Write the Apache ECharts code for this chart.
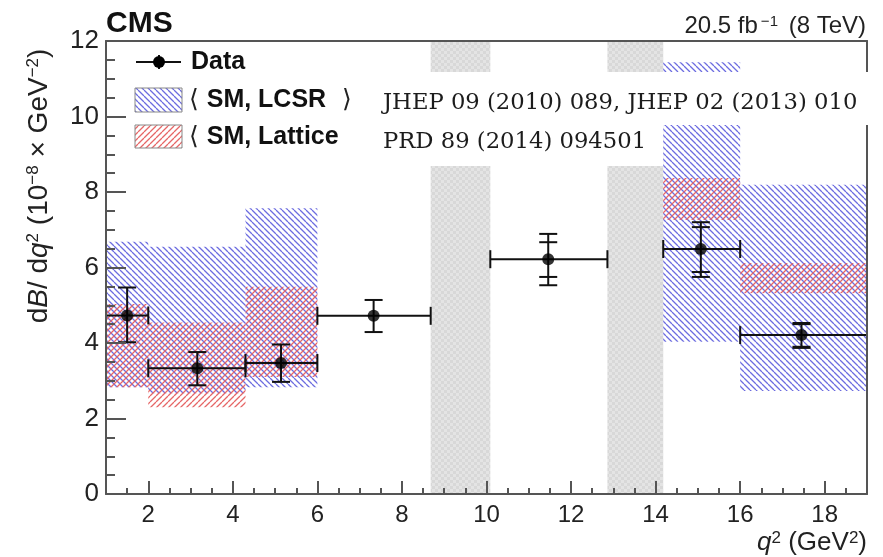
<!DOCTYPE html>
<html>
<head>
<meta charset="utf-8">
<script src="https://cdn.jsdelivr.net/npm/echarts@6/dist/echarts.min.js"></script>
<style>
  html, body { margin: 0; background: #fff; }
  #chart { width: 883px; height: 557px; }
</style>
</head>
<body>
<div id="chart"></div>
<script>
// measured bins (q2 in GeV2)
const binLo = [1, 2, 4.3, 6, 10.09, 14.18, 16];
const binHi = [2, 4.3, 6, 8.68, 12.86, 16, 19];
const dataX = [1.5, 3.16, 5.14, 7.33, 11.46, 15.07, 17.45];
const dataY = [4.73, 3.33, 3.47, 4.72, 6.22, 6.49, 4.21];
const totLo = [4.02, 2.88, 2.97, 4.29, 5.53, 5.75, 3.87];
const totHi = [5.47, 3.76, 3.96, 5.14, 6.89, 7.20, 4.53];
const statLo = [4.02, 2.88, 2.97, 4.29, 5.75, 5.88, 3.90];
const statHi = [5.47, 3.76, 3.96, 5.14, 6.67, 7.07, 4.50];

// SM predictions
const thBinLo = [1, 2, 4.3, 14.18, 16];
const thBinHi = [2, 4.3, 6, 16, 19];
const lcsrLo = [2.83, 2.67, 2.83, 4.03, 2.73];
const lcsrHi = [6.68, 6.55, 7.57, 11.44, 8.19];
const latLo = [2.83, 2.30, 3.10, 7.26, 5.32];
const latHi = [5.03, 4.54, 5.49, 8.37, 6.12];

// vetoed regions (J/psi, psi')
const vetoLo = [8.68, 12.86];
const vetoHi = [10.09, 14.18];

const xLabels = [2, 4, 6, 8, 10, 12, 14, 16, 18];

function hatch(color, dir) {
  const s = 6;
  const c = document.createElement('canvas');
  c.width = s; c.height = s;
  const ctx = c.getContext('2d');
  ctx.strokeStyle = color;
  ctx.lineWidth = 1.3;
  ctx.beginPath();
  for (let k = -1; k <= 1; k++) {
    if (dir > 0) { ctx.moveTo(k * s, 0); ctx.lineTo(k * s + s, s); }
    else { ctx.moveTo(k * s, s); ctx.lineTo(k * s + s, 0); }
  }
  ctx.stroke();
  return c;
}

function checker() {
  const c = document.createElement('canvas');
  c.width = 6; c.height = 6;
  const ctx = c.getContext('2d');
  ctx.fillStyle = '#e4e4e4';
  ctx.fillRect(0, 0, 6, 6);
  ctx.fillStyle = '#d8d8d8';
  ctx.fillRect(0, 0, 3, 3);
  ctx.fillRect(3, 3, 3, 3);
  return c;
}

const bluePat = { image: hatch('#6c6ce0', 1), repeat: 'repeat' };
const redPat = { image: hatch('#e66666', -1), repeat: 'repeat' };
const greyPat = { image: checker(), repeat: 'repeat' };

function boxItem(fill) {
  return function (params, api) {
    const p0 = api.coord([api.value(0), api.value(3)]);
    const p1 = api.coord([api.value(1), api.value(2)]);
    return {
      type: 'rect',
      shape: { x: p0[0], y: p0[1], width: p1[0] - p0[0], height: p1[1] - p0[1] },
      style: { fill: fill }
    };
  };
}

function errItem(params, api) {
  const c = api.coord([api.value(0), api.value(1)]);
  const xl = api.coord([api.value(2), 0])[0];
  const xh = api.coord([api.value(3), 0])[0];
  const tl = api.coord([0, api.value(4)])[1];
  const th = api.coord([0, api.value(5)])[1];
  const sl = api.coord([0, api.value(6)])[1];
  const sh = api.coord([0, api.value(7)])[1];
  const st = { stroke: '#111', lineWidth: 2 };
  const w = 9;
  const seg = (x1, y1, x2, y2) => ({ type: 'line', shape: { x1, y1, x2, y2 }, style: st });
  const kids = [
    seg(xl, c[1], xh, c[1]),
    seg(xl, c[1] - w, xl, c[1] + w),
    seg(xh, c[1] - w, xh, c[1] + w),
    seg(c[0], th, c[0], tl),
    seg(c[0] - w, th, c[0] + w, th),
    seg(c[0] - w, tl, c[0] + w, tl)
  ];
  if (Math.abs(sh - th) > 1) kids.push(seg(c[0] - w, sh, c[0] + w, sh));
  if (Math.abs(sl - tl) > 1) kids.push(seg(c[0] - w, sl, c[0] + w, sl));
  return { type: 'group', children: kids };
}

const vetoData = vetoLo.map((v, i) => [v, vetoHi[i], 0, 12]);
const lcsrData = thBinLo.map((v, i) => [v, thBinHi[i], lcsrLo[i], lcsrHi[i]]);
const latData = thBinLo.map((v, i) => [v, thBinHi[i], latLo[i], latHi[i]]);
const errData = dataX.map((v, i) => [v, dataY[i], binLo[i], binHi[i], totLo[i], totHi[i], statLo[i], statHi[i]]);

const FONT = '"Liberation Sans", Arial, sans-serif';
const TXT = '#222';
const AX = '#555';
const sup = { fontSize: 17, fontFamily: FONT, fill: TXT, verticalAlign: 'top' };
const frameOnly = {
  z: 10,
  axisLine: { show: true, onZero: false, lineStyle: { color: AX, width: 2 } },
  axisTick: { show: false }, axisLabel: { show: false }, splitLine: { show: false }
};

const chart = echarts.init(document.getElementById('chart'));
chart.setOption({
  animation: false,
  backgroundColor: '#fff',
  grid: { left: 106, right: 16, top: 41, bottom: 63 },
  xAxis: [{
    type: 'value', min: 1, max: 19, interval: 0.5, position: 'bottom', z: 10,
    axisLine: { show: true, onZero: false, lineStyle: { color: AX, width: 2 } },
    axisTick: { show: true, inside: true, length: 6, lineStyle: { color: AX, width: 2 } },
    axisLabel: {
      fontSize: 24, fontFamily: FONT, color: TXT, margin: 9,
      formatter: v => (xLabels.indexOf(v) >= 0 ? String(v) : '')
    },
    splitLine: { show: false }
  }, {
    type: 'value', min: 1, max: 19, position: 'bottom', z: 10,
    axisLine: { show: false, onZero: false },
    axisTick: { show: true, inside: true, length: 13, customValues: xLabels, lineStyle: { color: AX, width: 2 } },
    axisLabel: { show: false },
    splitLine: { show: false }
  }, Object.assign({ type: 'value', min: 1, max: 19, position: 'top' }, frameOnly)],
  yAxis: [{
    type: 'value', min: 0, max: 12, interval: 2, position: 'left', z: 10,
    axisLine: { show: true, onZero: false, lineStyle: { color: AX, width: 2 } },
    axisTick: { show: true, inside: true, length: 20, lineStyle: { color: AX, width: 2 } },
    minorTick: { show: true, splitNumber: 4, length: 9, lineStyle: { color: AX, width: 2 } },
    axisLabel: { fontSize: 26, fontFamily: FONT, color: TXT, margin: 7 },
    splitLine: { show: false }
  }, Object.assign({ type: 'value', min: 0, max: 12, position: 'right' }, frameOnly)],
  series: [
    { type: 'custom', silent: true, clip: false, renderItem: boxItem(greyPat), data: vetoData, z: 1 },
    { type: 'custom', silent: true, clip: false, renderItem: boxItem(bluePat), data: lcsrData, z: 2 },
    { type: 'custom', silent: true, clip: false, renderItem: boxItem(redPat), data: latData, z: 3 },
    { type: 'custom', silent: true, clip: false, renderItem: errItem, data: errData, z: 4 },
    {
      type: 'scatter', silent: true, symbol: 'circle', symbolSize: 12, z: 5,
      itemStyle: { color: '#000' },
      data: dataX.map((v, i) => [v, dataY[i]])
    }
  ],
  graphic: [
    // white boxes behind the reference text
    { type: 'rect', z: 50, shape: { x: 372, y: 72, width: 500, height: 53 }, style: { fill: '#fff' } },
    { type: 'rect', z: 50, shape: { x: 372, y: 124, width: 291, height: 42 }, style: { fill: '#fff' } },
    { type: 'text', z: 60, x: 383, y: 103, style: { text: 'JHEP 09 (2010) 089, JHEP 02 (2013) 010', font: '22.7px "DejaVu Serif", serif', fill: '#1c1c1c', align: 'left', verticalAlign: 'middle' } },
    { type: 'text', z: 60, x: 383, y: 142, style: { text: 'PRD 89 (2014) 094501', font: '22.7px "DejaVu Serif", serif', fill: '#1c1c1c', align: 'left', verticalAlign: 'middle' } },

    // CMS label and lumi
    { type: 'text', z: 60, x: 106, y: 24, style: { text: 'CMS', font: 'bold 30px ' + FONT, fill: '#111', align: 'left', verticalAlign: 'middle' } },
    {
      type: 'text', z: 60, x: 866, y: 26,
      style: {
        text: '{n|20.5 fb}{s|−1}{n| (8 TeV)}', align: 'right', verticalAlign: 'middle',
        rich: { n: { fontSize: 24, fontFamily: FONT, fill: TXT }, s: { fontSize: 15, fontFamily: FONT, fill: TXT, verticalAlign: 'top', padding: [0, 4, 0, 3] } }
      }
    },

    // legend
    { type: 'line', z: 60, shape: { x1: 136, y1: 62, x2: 181, y2: 62 }, style: { stroke: '#111', lineWidth: 2 } },
    { type: 'line', z: 60, shape: { x1: 159, y1: 55, x2: 159, y2: 69 }, style: { stroke: '#111', lineWidth: 2 } },
    { type: 'circle', z: 61, shape: { cx: 159, cy: 62, r: 6 }, style: { fill: '#000' } },
    { type: 'text', z: 60, x: 191, y: 62, style: { text: 'Data', font: 'bold 25px ' + FONT, fill: '#111', align: 'left', verticalAlign: 'middle' } },
    { type: 'rect', z: 60, shape: { x: 135, y: 88, width: 47, height: 24 }, style: { fill: bluePat, stroke: '#888', lineWidth: 1 } },
    {
      type: 'text', z: 60, x: 189, y: 100,
      style: {
        text: '{a|⟨ }{b|SM, LCSR}{a|  ⟩}', align: 'left', verticalAlign: 'middle',
        rich: { a: { fontSize: 25, fontFamily: '"DejaVu Sans", sans-serif', fill: '#222' }, b: { fontSize: 25, fontWeight: 'bold', fontFamily: FONT, fill: '#111' } }
      }
    },
    { type: 'rect', z: 60, shape: { x: 135, y: 125, width: 47, height: 23 }, style: { fill: redPat, stroke: '#888', lineWidth: 1 } },
    {
      type: 'text', z: 60, x: 189, y: 137,
      style: {
        text: '{a|⟨ }{b|SM, Lattice}', align: 'left', verticalAlign: 'middle',
        rich: { a: { fontSize: 25, fontFamily: '"DejaVu Sans", sans-serif', fill: '#222' }, b: { fontSize: 25, fontWeight: 'bold', fontFamily: FONT, fill: '#111' } }
      }
    },

    // axis titles
    {
      type: 'text', z: 60, x: 39, y: 186, rotation: Math.PI / 2,
      style: {
        text: '{n|d}{i|B}{n|/ d}{i|q}{s|2}{n| (10}{s|−8}{n| × GeV}{s|−2}{n|)}',
        align: 'center', verticalAlign: 'middle',
        rich: {
          n: { fontSize: 28, fontFamily: FONT, fill: TXT },
          i: { fontSize: 28, fontFamily: FONT, fontStyle: 'italic', fill: TXT },
          s: sup
        }
      }
    },
    {
      type: 'text', z: 60, x: 867, y: 543,
      style: {
        text: '{i|q}{s|2}{n| (GeV}{s|2}{n|)}',
        align: 'right', verticalAlign: 'middle',
        rich: {
          n: { fontSize: 26, fontFamily: FONT, fill: TXT },
          i: { fontSize: 26, fontFamily: FONT, fontStyle: 'italic', fill: TXT },
          s: sup
        }
      }
    }
  ]
});
</script>
</body>
</html>
